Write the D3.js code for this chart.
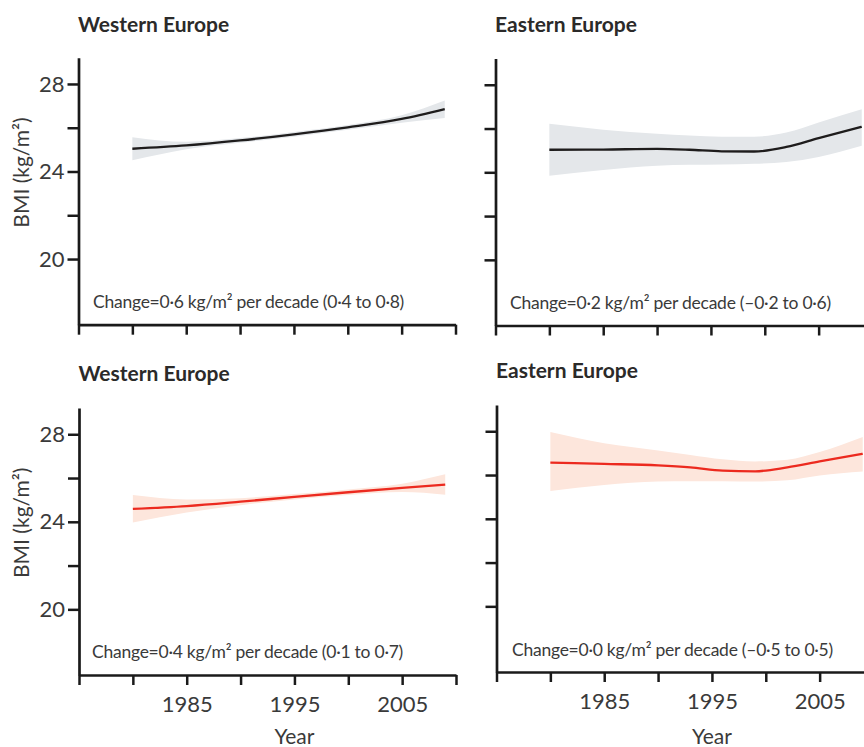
<!DOCTYPE html>
<html>
<head>
<meta charset="utf-8">
<script src="https://cdn.jsdelivr.net/npm/d3@7"></script>
<style>
  body { margin: 0; background: #fff; }
  svg { display: block; }
</style>
</head>
<body>
<svg id="chart" width="864" height="747"></svg>
<script>
// Axis ticks
const yearTicks = [1975, 1980, 1985, 1990, 1995, 2000, 2005, 2010];
const yearLabels = [1985, 1995, 2005];
const bmiTicks = [20, 22, 24, 26, 28];
const bmiLabels = [20, 24, 28];

// Sample years of the fitted trends
const westYears = [1980, 1985, 1990, 1995, 2000, 2005, 2009];
const eastYears = [1980, 1985, 1990, 1993, 1996, 1999, 2002, 2005, 2009];

// Western Europe, dark series (mean BMI and uncertainty band)
const westDarkMean  = [25.04, 25.19, 25.42, 25.70, 26.02, 26.40, 26.85];
const westDarkLower = [24.51, 25.02, 25.31, 25.59, 25.91, 26.23, 26.45];
const westDarkUpper = [25.57, 25.36, 25.53, 25.81, 26.13, 26.57, 27.24];

// Eastern Europe, dark series
const eastDarkMean  = [25.03, 25.04, 25.07, 25.03, 24.96, 24.95, 25.16, 25.56, 26.08];
const eastDarkLower = [23.84, 24.11, 24.30, 24.34, 24.36, 24.39, 24.47, 24.70, 25.21];
const eastDarkUpper = [26.22, 25.95, 25.76, 25.68, 25.63, 25.63, 25.82, 26.28, 26.88];

// Western Europe, red series
const westRedMean  = [24.59, 24.72, 24.92, 25.14, 25.35, 25.55, 25.70];
const westRedLower = [23.97, 24.42, 24.76, 25.02, 25.22, 25.36, 25.24];
const westRedUpper = [25.22, 25.02, 25.08, 25.27, 25.48, 25.74, 26.17];

// Eastern Europe, red series
const eastRedMean  = [26.57, 26.51, 26.44, 26.35, 26.20, 26.17, 26.35, 26.62, 26.97];
const eastRedLower = [25.27, 25.54, 25.70, 25.72, 25.72, 25.70, 25.76, 25.98, 26.16];
const eastRedUpper = [27.97, 27.45, 27.12, 26.92, 26.72, 26.62, 26.70, 27.05, 27.74];

// Panel titles and change annotations
const titles = ["Western Europe", "Eastern Europe", "Western Europe", "Eastern Europe"];
const notes = [
  "Change=0·6 kg/m² per decade (0·4 to 0·8)",
  "Change=0·2 kg/m² per decade (–0·2 to 0·6)",
  "Change=0·4 kg/m² per decade (0·1 to 0·7)",
  "Change=0·0 kg/m² per decade (–0·5 to 0·5)"
];

const FONT = "Lato, 'Open Sans', 'Noto Sans', sans-serif";
const TEXT = "#2b2a29";
const DARK = { line: "#1e1c1c", band: "#e4e7ea" };
const RED  = { line: "#ec2a1f", band: "#fde6dc" };

const panels = [
  { left: 78.5, top: 57.7, title: titles[0], note: notes[0], years: westYears,
    mean: westDarkMean, lower: westDarkLower, upper: westDarkUpper, col: DARK,
    yLabels: true, xLabels: false, titleY: 32, noteX: 93, noteY: 308 },
  { left: 495.5, top: 58.5, title: titles[1], note: notes[1], years: eastYears,
    mean: eastDarkMean, lower: eastDarkLower, upper: eastDarkUpper, col: DARK,
    yLabels: false, xLabels: false, titleY: 32, noteX: 510, noteY: 309 },
  { left: 79, top: 408, title: titles[2], note: notes[2], years: westYears,
    mean: westRedMean, lower: westRedLower, upper: westRedUpper, col: RED,
    yLabels: true, xLabels: true, titleY: 381, noteX: 92, noteY: 658 },
  { left: 496.5, top: 405, title: titles[3], note: notes[3], years: eastYears,
    mean: eastRedMean, lower: eastRedLower, upper: eastRedUpper, col: RED,
    yLabels: false, xLabels: true, titleY: 378, noteX: 512, noteY: 656 }
];

const plotW = 377;   // 1975 to 2010
const plotH = 267;   // BMI 17 to 29.2

const svg = d3.select("#chart");

panels.forEach(p => {
  const x = d3.scaleLinear().domain([1975, 2010]).range([p.left, p.left + plotW]);
  const y = d3.scaleLinear().domain([17, 29.2]).range([p.top + plotH, p.top]);
  const g = svg.append("g");

  const rows = p.years.map((yr, i) => ({ yr, m: p.mean[i], lo: p.lower[i], hi: p.upper[i] }));

  // uncertainty band
  g.append("path")
    .datum(rows)
    .attr("fill", p.col.band)
    .attr("d", d3.area()
      .x(d => x(d.yr)).y0(d => y(d.lo)).y1(d => y(d.hi))
      .curve(d3.curveMonotoneX));

  // mean trend
  g.append("path")
    .datum(rows)
    .attr("fill", "none")
    .attr("stroke", p.col.line)
    .attr("stroke-width", 2.3)
    .attr("d", d3.line().x(d => x(d.yr)).y(d => y(d.m)).curve(d3.curveMonotoneX));

  // y axis
  const yAxis = g.append("g")
    .attr("transform", `translate(${p.left},0)`)
    .call(d3.axisLeft(y).tickValues(bmiTicks).tickSize(11).tickSizeOuter(0).tickPadding(3)
      .tickFormat(d => (p.yLabels && bmiLabels.includes(d)) ? d : ""));

  // x axis
  const xAxis = g.append("g")
    .attr("transform", `translate(0,${p.top + plotH})`)
    .call(d3.axisBottom(x).tickValues(yearTicks).tickSize(10).tickSizeOuter(0).tickPadding(11)
      .tickFormat(d => (p.xLabels && yearLabels.includes(d)) ? d : ""));

  [yAxis, xAxis].forEach(a => {
    a.select(".domain").attr("stroke", "#1a1a1a").attr("stroke-width", 2.7);
    a.selectAll(".tick line").attr("stroke", "#1a1a1a").attr("stroke-width", 2.5);
    a.selectAll(".tick text")
      .attr("fill", "#3a3a3a")
      .style("font-family", FONT)
      .style("font-size", "22px");
  });

  // panel title
  svg.append("text")
    .attr("x", p.left - 0.5)
    .attr("y", p.titleY)
    .attr("fill", TEXT)
    .style("font-family", FONT)
    .style("font-weight", "700")
    .style("font-size", "21px")
    .text(p.title);

  // change annotation
  svg.append("text")
    .attr("x", p.noteX)
    .attr("y", p.noteY)
    .attr("fill", "#3a3a3a")
    .style("font-family", FONT)
    .style("font-size", "17.5px")
    .style("letter-spacing", "-0.25px")
    .text(p.note);

  // y axis title on the left column
  if (p.yLabels) {
    svg.append("text")
      .attr("transform", `translate(29,${y(24) + 1}) rotate(-90)`)
      .attr("text-anchor", "middle")
      .attr("fill", "#3a3a3a")
      .style("font-family", FONT)
      .style("font-size", "21px")
      .text("BMI (kg/m²)");
  }

  // x axis title on the bottom row
  if (p.xLabels) {
    svg.append("text")
      .attr("x", x(1995))
      .attr("y", 744)
      .attr("text-anchor", "middle")
      .attr("fill", "#3a3a3a")
      .style("font-family", FONT)
      .style("font-size", "21px")
      .text("Year");
  }
});
</script>
</body>
</html>
